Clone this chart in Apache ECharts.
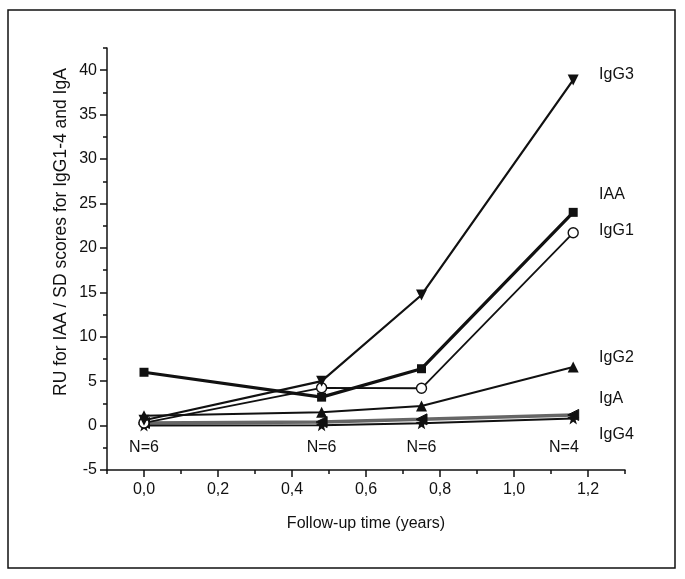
<!DOCTYPE html>
<html>
<head>
<meta charset="utf-8">
<script src="https://cdn.jsdelivr.net/npm/echarts@6/dist/echarts.min.js"></script>
<style>html,body{margin:0;padding:0;background:#fff;}#c{width:685px;height:579px;}</style>
</head>
<body>
<div id="c"></div>
<script>
var years = [0, 0.48, 0.75, 1.16];
var IgG3 = [0.6, 5.0, 14.7, 38.9];
var IAA = [6.0, 3.2, 6.4, 24.0];
var IgG1 = [0.3, 4.25, 4.2, 21.7];
var IgG2 = [1.1, 1.5, 2.2, 6.6];
var IgA = [0.3, 0.4, 0.7, 1.2];
var IgG4 = [0.0, 0.05, 0.25, 0.8];
var nLabels = ['N=6', 'N=6', 'N=6', 'N=4'];
var xMajor = [0, 0.2, 0.4, 0.6, 0.8, 1.0, 1.2];
var xMinor = [-0.1, 0.1, 0.3, 0.5, 0.7, 0.9, 1.1, 1.3];
var yMajor = [-5, 0, 5, 10, 15, 20, 25, 30, 35, 40];
var yMinor = [-2.5, 2.5, 7.5, 12.5, 17.5, 22.5, 27.5, 32.5, 37.5, 42.5];
var seriesNames = ['IgG3', 'IAA', 'IgG1', 'IgG2', 'IgA', 'IgG4'];
var labelPos = [[1.23, 39.5], [1.23, 26.0], [1.23, 21.9], [1.23, 7.6], [1.23, 3.0], [1.23, -1.0]];
var nLabelY = -2.5;
var nLabelX = [0, 0.48, 0.75, 1.135];

var FONT = 'Liberation Sans, Arial, sans-serif';
var STAR = 'path://M0,-10 L2.35,-3.24 L9.51,-3.09 L3.8,1.24 L5.88,8.09 L0,4 L-5.88,8.09 L-3.8,1.24 L-9.51,-3.09 L-2.35,-3.24 Z';

function pairs(arr) { return years.map(function (x, i) { return [x, arr[i]]; }); }
function fmtComma(v) { return v.toFixed(1).replace('.', ','); }

var chart = echarts.init(document.getElementById('c'));
chart.setOption({
  animation: false,
  backgroundColor: '#fff',
  grid: { left: 107, right: 60, top: 48, bottom: 109, containLabel: false },
  xAxis: [{
    type: 'value', min: -0.1, max: 1.3,
    axisLine: { show: true, onZero: false, lineStyle: { color: '#111', width: 1.5 } },
    axisTick: { show: true, customValues: xMajor, length: 7, inside: false, lineStyle: { color: '#111', width: 1.5 } },
    axisLabel: { customValues: xMajor, formatter: fmtComma, margin: 12, fontSize: 16, color: '#111', fontFamily: FONT },
    splitLine: { show: false },
    name: 'Follow-up time (years)', nameLocation: 'middle', nameGap: 46,
    nameTextStyle: { fontSize: 16, color: '#111', fontFamily: FONT }
  }, {
    type: 'value', min: -0.1, max: 1.3, position: 'bottom',
    axisLine: { show: false, onZero: false },
    axisTick: { show: true, customValues: xMinor, length: 4, lineStyle: { color: '#111', width: 1.5 } },
    axisLabel: { show: false }, splitLine: { show: false }
  }],
  yAxis: [{
    type: 'value', min: -5, max: 42.5,
    axisLine: { show: true, onZero: false, lineStyle: { color: '#111', width: 1.5 } },
    axisTick: { show: true, customValues: yMajor, length: 7, lineStyle: { color: '#111', width: 1.5 } },
    axisLabel: { customValues: yMajor, margin: 10, fontSize: 16, color: '#111', fontFamily: FONT },
    splitLine: { show: false }
  }, {
    type: 'value', min: -5, max: 42.5, position: 'left', offset: 0,
    axisLine: { show: false, onZero: false },
    axisTick: { show: true, customValues: yMinor, length: 4, lineStyle: { color: '#111', width: 1.5 } },
    axisLabel: { show: false }, splitLine: { show: false }
  }],
  series: [
    { name: 'IgA', type: 'line', data: pairs(IgA), z: 2,
      lineStyle: { color: '#666', width: 3.5 },
      symbol: 'triangle', symbolRotate: 90, symbolSize: 11,
      itemStyle: { color: '#111', borderColor: '#111' } },
    { name: 'IgG4', type: 'line', data: pairs(IgG4), z: 3,
      lineStyle: { color: '#111', width: 2 },
      symbol: STAR, symbolSize: 12,
      itemStyle: { color: '#111' } },
    { name: 'IgG2', type: 'line', data: pairs(IgG2), z: 3,
      lineStyle: { color: '#111', width: 2 },
      symbol: 'triangle', symbolSize: 11,
      itemStyle: { color: '#111' } },
    { name: 'IgG1', type: 'line', data: pairs(IgG1), z: 4,
      lineStyle: { color: '#111', width: 1.8 },
      symbol: 'circle', symbolSize: 10, showAllSymbol: true,
      itemStyle: { color: '#fff', borderColor: '#111', borderWidth: 1.4 } },
    { name: 'IgG3', type: 'line', data: pairs(IgG3), z: 5,
      lineStyle: { color: '#111', width: 2.2 },
      symbol: 'triangle', symbolRotate: 180, symbolSize: 11,
      itemStyle: { color: '#111' } },
    { name: 'IAA', type: 'line', data: pairs(IAA), z: 6,
      lineStyle: { color: '#111', width: 3.2 },
      symbol: 'rect', symbolSize: 9,
      itemStyle: { color: '#111' } }
  ]
});

var g = [];
g.push({ type: 'rect', shape: { x: 8, y: 10, width: 667, height: 558 },
  style: { fill: 'none', stroke: '#111', lineWidth: 1.5 }, silent: true, z: 0 });
g.push({ type: 'text', x: 61, y: 232, rotation: Math.PI / 2,
  style: { text: 'RU for IAA / SD scores for IgG1-4 and IgA', fontSize: 17.5, fill: '#111',
    fontFamily: FONT, align: 'center', verticalAlign: 'middle' } });
seriesNames.forEach(function (n, i) {
  var p = chart.convertToPixel({ xAxisIndex: 0, yAxisIndex: 0 }, labelPos[i]);
  g.push({ type: 'text', x: p[0], y: p[1],
    style: { text: n, fontSize: 16, fill: '#111', fontFamily: FONT, align: 'left', verticalAlign: 'middle' } });
});
nLabels.forEach(function (t, i) {
  var p = chart.convertToPixel({ xAxisIndex: 0, yAxisIndex: 0 }, [nLabelX[i], nLabelY]);
  g.push({ type: 'text', x: p[0], y: p[1],
    style: { text: t, fontSize: 16, fill: '#111', fontFamily: FONT, align: 'center', verticalAlign: 'middle' } });
});
chart.setOption({ graphic: g });
</script>
</body>
</html>
